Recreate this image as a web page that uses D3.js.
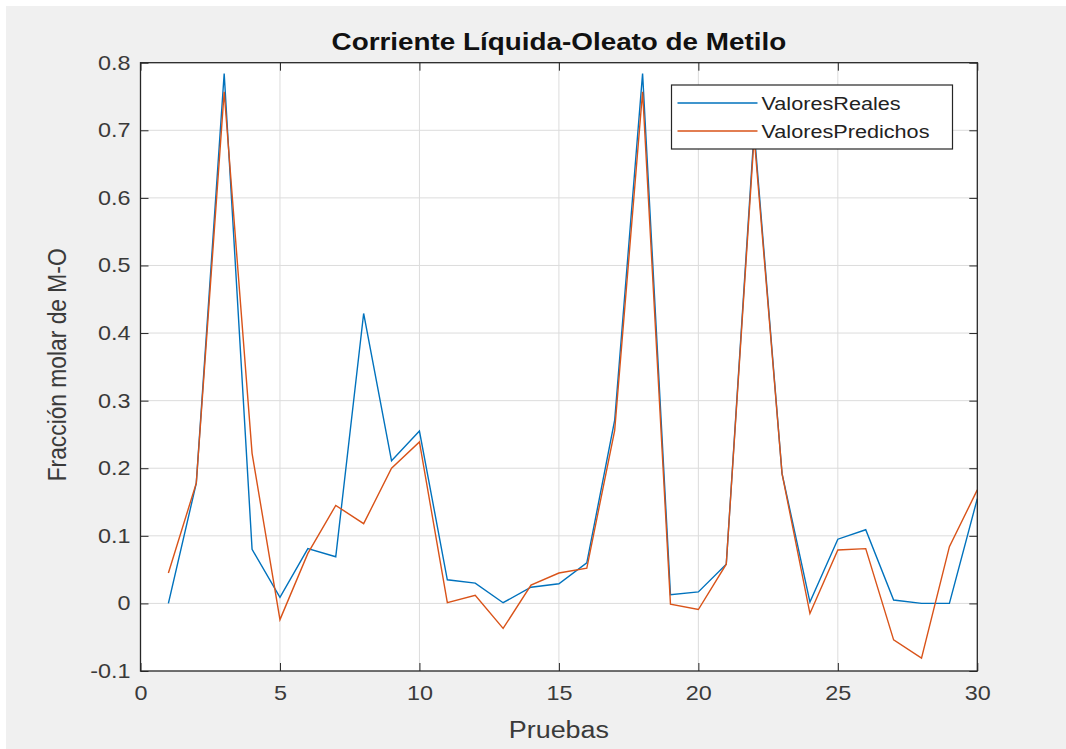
<!DOCTYPE html>
<html>
<head>
<meta charset="utf-8">
<script src="https://cdn.jsdelivr.net/npm/d3@7"></script>
<style>
  html, body { margin: 0; padding: 0; background: #ffffff; }
  svg { display: block; }
  text { font-family: "Liberation Sans", Arial, Helvetica, sans-serif; }
</style>
</head>
<body>
<script>
// Ensayo index (Pruebas) and molar fraction of methyl oleate in the liquid stream
const pruebas = d3.range(1, 31);
const valoresReales = [
  0.000, 0.178, 0.784, 0.080, 0.009, 0.081, 0.069, 0.429, 0.211, 0.255,
  0.035, 0.030, 0.001, 0.024, 0.029, 0.060, 0.271, 0.784, 0.013, 0.017,
  0.058, 0.700, 0.192, 0.002, 0.095, 0.109, 0.005, 0.000, 0.000, 0.155
];
const valoresPredichos = [
  0.045, 0.178, 0.757, 0.222, -0.024, 0.074, 0.145, 0.118, 0.200, 0.239,
  0.001, 0.012, -0.037, 0.027, 0.045, 0.052, 0.256, 0.757, -0.001, -0.009,
  0.058, 0.690, 0.192, -0.015, 0.079, 0.081, -0.054, -0.081, 0.084, 0.168
];
const xTicks = [0, 5, 10, 15, 20, 25, 30];
const yTicks = [-0.1, 0, 0.1, 0.2, 0.3, 0.4, 0.5, 0.6, 0.7, 0.8];
const seriesNames = ["ValoresReales", "ValoresPredichos"];
const seriesColors = ["#0072BD", "#D95319"];

const W = 1066, H = 749;
const plot = { left: 140.5, top: 62.7, right: 977.3, bottom: 671 };
const SX = 1.17; // horizontal glyph stretch of the rendered figure text
const axisColor = "#262626";
const textColor = "#3a3a3a";

const svg = d3.select("body").append("svg").attr("width", W).attr("height", H);

// figure background with thin white margin at top/left
svg.append("rect").attr("width", W).attr("height", H).attr("fill", "#ffffff");
svg.append("rect").attr("x", 6).attr("y", 6).attr("width", W - 6).attr("height", H - 6).attr("fill", "#f0f0f0");

const x = d3.scaleLinear().domain([0, 30]).range([plot.left, plot.right]);
const y = d3.scaleLinear().domain([-0.1, 0.8]).range([plot.bottom, plot.top]);

// axes background
svg.append("rect")
  .attr("x", plot.left).attr("y", plot.top)
  .attr("width", plot.right - plot.left).attr("height", plot.bottom - plot.top)
  .attr("fill", "#ffffff");

// grid
const grid = svg.append("g").attr("stroke", "#dcdcdc").attr("stroke-width", 1);
grid.selectAll("line.gx").data(xTicks.slice(1, -1)).join("line")
  .attr("x1", d => x(d)).attr("x2", d => x(d))
  .attr("y1", plot.top).attr("y2", plot.bottom);
grid.selectAll("line.gy").data(yTicks.slice(1, -1)).join("line")
  .attr("x1", plot.left).attr("x2", plot.right)
  .attr("y1", d => y(d)).attr("y2", d => y(d));

// data lines
const line = d3.line().x((d, i) => x(pruebas[i])).y(d => y(d));
[valoresReales, valoresPredichos].forEach((vals, k) => {
  svg.append("path")
    .datum(vals)
    .attr("fill", "none")
    .attr("stroke", seriesColors[k])
    .attr("stroke-width", 1.4)
    .attr("stroke-linejoin", "miter")
    .attr("d", line);
});

// axes with inward ticks on all four sides
const tickLen = 8;
const fmtY = d => String(+d.toFixed(1)); // plain hyphen for negatives
function styleAxis(g) {
  g.select(".domain").remove();
  g.selectAll(".tick line").attr("stroke", axisColor);
  g.selectAll(".tick text").attr("fill", textColor).attr("font-size", 20);
}
const gBottom = svg.append("g").attr("transform", `translate(0,${plot.bottom})`)
  .call(d3.axisBottom(x).tickValues(xTicks).tickSizeInner(-tickLen).tickSizeOuter(0).tickPadding(15))
  .call(styleAxis);
gBottom.selectAll(".tick text")
  .attr("transform", `scale(${SX},1)`);

const gLeft = svg.append("g").attr("transform", `translate(${plot.left},0)`)
  .call(d3.axisLeft(y).tickValues(yTicks).tickFormat(fmtY).tickSizeInner(-tickLen).tickSizeOuter(0).tickPadding(0))
  .call(styleAxis);
gLeft.selectAll(".tick text")
  .attr("x", -10 / SX)
  .attr("transform", `scale(${SX},1)`);

svg.append("g").attr("transform", `translate(0,${plot.top})`)
  .call(d3.axisTop(x).tickValues(xTicks).tickSizeInner(-tickLen).tickSizeOuter(0).tickFormat(""))
  .call(styleAxis);
svg.append("g").attr("transform", `translate(${plot.right},0)`)
  .call(d3.axisRight(y).tickValues(yTicks).tickSizeInner(-tickLen).tickSizeOuter(0).tickFormat(""))
  .call(styleAxis);

// axes box
svg.append("rect")
  .attr("x", plot.left).attr("y", plot.top)
  .attr("width", plot.right - plot.left).attr("height", plot.bottom - plot.top)
  .attr("fill", "none").attr("stroke", axisColor).attr("stroke-width", 1.3);

// title and axis labels
const cx = (plot.left + plot.right) / 2;
svg.append("text")
  .attr("transform", `translate(${cx},50) scale(${SX},1)`)
  .attr("text-anchor", "middle")
  .attr("font-size", 23.8).attr("font-weight", "bold").attr("fill", "#111")
  .text("Corriente Líquida-Oleato de Metilo");

svg.append("text")
  .attr("transform", `translate(${cx},738) scale(${SX},1)`)
  .attr("text-anchor", "middle")
  .attr("font-size", 23).attr("fill", textColor)
  .text("Pruebas");

svg.append("text")
  .attr("transform", `translate(66,${(plot.top + plot.bottom) / 2 - 2}) rotate(-90) scale(1,${SX})`)
  .attr("text-anchor", "middle")
  .attr("font-size", 22.8).attr("fill", textColor)
  .text("Fracción molar de M-O");

// legend
const lg = { x: 671.5, y: 85, w: 281, h: 64 };
const legend = svg.append("g");
legend.append("rect")
  .attr("x", lg.x).attr("y", lg.y).attr("width", lg.w).attr("height", lg.h)
  .attr("fill", "#ffffff").attr("stroke", axisColor).attr("stroke-width", 1.2);
seriesNames.forEach((name, k) => {
  const ry = lg.y + 18 + k * 28;
  legend.append("line")
    .attr("x1", lg.x + 6).attr("x2", lg.x + 86)
    .attr("y1", ry).attr("y2", ry)
    .attr("stroke", seriesColors[k]).attr("stroke-width", 1.4);
  legend.append("text")
    .attr("transform", `translate(${lg.x + 90},${ry + 6.5}) scale(${SX},1)`)
    .attr("font-size", 18.5).attr("fill", "#222")
    .text(name);
});
</script>
</body>
</html>
